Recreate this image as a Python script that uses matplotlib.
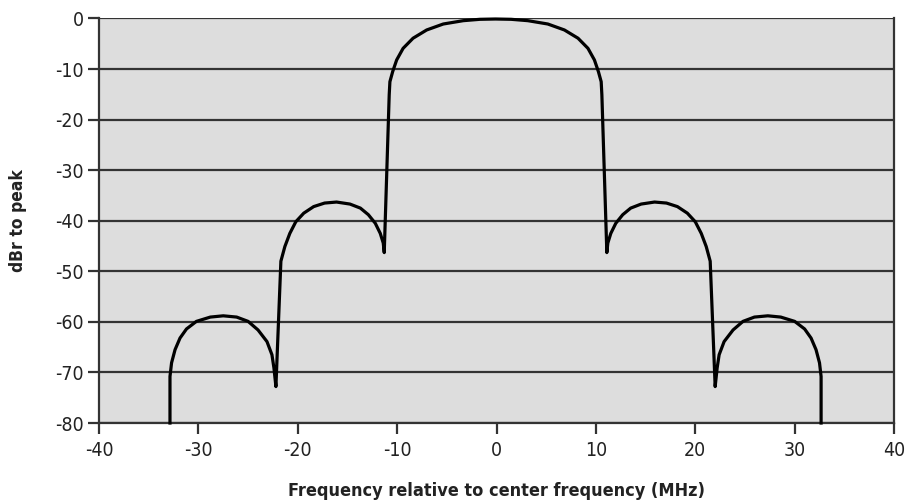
import matplotlib
matplotlib.use('Agg')
import matplotlib.pyplot as plt

plt.rcParams['font.family'] = ['DejaVu Sans']
plt.rcParams['font.stretch'] = 'condensed'

# spectrum mask (MHz, dBr)
freq = [-32.86, -32.86, -32.7, -32.35, -31.85, -31.2, -30.2, -28.8, -27.5, -26.15, -25.0,
        -24.0, -23.1, -22.6, -22.4, -22.2,
        -21.7, -21.3, -20.8, -20.2, -19.4, -18.4, -17.3, -16.1, -14.75, -13.7, -12.9,
        -12.2, -11.7, -11.4, -11.3,
        -10.8, -10.73, -10.45, -10.05, -9.4, -8.4, -7.03, -5.36, -3.35, -1.67, -0.1,
        1.47, 3.15, 5.16, 6.83, 8.2, 9.2, 9.85, 10.25, 10.53, 10.6,
        11.1, 11.2, 11.5, 12.0, 12.7, 13.5, 14.55, 15.9, 17.1, 18.2, 19.2, 20.0, 20.6,
        21.1, 21.5,
        22.0, 22.2, 22.4, 22.9, 23.8, 24.8, 25.95, 27.3, 28.6, 30.0, 31.0, 31.65, 32.15,
        32.5, 32.66, 32.66]
level = [-80, -70.8, -68.1, -65.5, -63.2, -61.4, -59.9, -59.05, -58.8, -59.05, -59.9,
         -61.6, -63.9, -66.5, -69.1, -72.8,
         -48.0, -45.1, -42.5, -40.2, -38.5, -37.2, -36.5, -36.3, -36.7, -37.5, -38.8,
         -40.5, -42.5, -44.4, -46.3,
         -15.1, -12.5, -10.5, -8.2, -5.9, -3.9, -2.27, -1.09, -0.43, -0.16, -0.1,
         -0.16, -0.43, -1.09, -2.27, -3.9, -5.9, -8.2, -10.5, -12.5, -15.1,
         -46.3, -44.4, -42.5, -40.5, -38.8, -37.5, -36.7, -36.3, -36.5, -37.2, -38.5, -40.2, -42.5,
         -45.1, -48.0,
         -72.8, -69.1, -66.5, -63.9, -61.6, -59.9, -59.05, -58.8, -59.05, -59.9, -61.4, -63.2, -65.5,
         -68.1, -70.8, -80]

xticks = [-40, -30, -20, -10, 0, 10, 20, 30, 40]
yticks = [0, -10, -20, -30, -40, -50, -60, -70, -80]

fig = plt.figure(figsize=(9.06, 5.04), dpi=100)
ax = fig.add_axes([0.1093, 0.1607, 0.8775, 0.8026])
ax.set_facecolor('#dddddd')

for y in yticks:
    ax.axhline(y, color='#333333', lw=1.6, zorder=1)

ax.plot(freq, level, color='black', lw=2.3, solid_joinstyle='round', zorder=3, clip_on=False)

ax.set_xlim(-40, 40)
ax.set_ylim(-80, 0)
ax.set_xticks(xticks)
ax.set_yticks(yticks)
ax.set_xticklabels([str(v) for v in xticks])
ax.set_yticklabels([str(v) for v in yticks])

ax.spines['top'].set_visible(False)
for s in ['left', 'bottom', 'right']:
    ax.spines[s].set_color('#333333')
    ax.spines[s].set_linewidth(1.6)

ax.tick_params(axis='both', colors='#333333', width=1.6, length=8, labelsize=14,
               labelcolor='#222222')
ax.tick_params(axis='y', pad=3)
ax.tick_params(axis='x', pad=5)

ax.set_xlabel('Frequency relative to center frequency (MHz)', fontsize=13,
              fontweight='bold', color='#222222')
ax.set_ylabel('dBr to peak', fontsize=12.5, fontweight='bold', color='#222222')
ax.xaxis.set_label_coords(0.5, -0.145)
ax.yaxis.set_label_coords(-0.091, 0.5)

plt.savefig('out.png', dpi=100)
